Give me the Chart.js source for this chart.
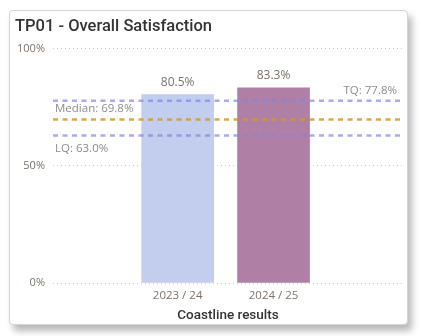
<!DOCTYPE html>
<html>
<head>
<meta charset="utf-8">
<script src="https://cdn.jsdelivr.net/npm/chart.js@4.4.7/dist/chart.umd.min.js"></script>
<style>
  html, body { margin: 0; padding: 0; background: #fff; }
  .card {
    position: absolute; left: 9px; top: 10px;
    width: 397px; height: 313px;
    border: 1px solid #d4d4d4; border-radius: 4px;
    background: #fff;
    box-shadow: 4px 6px 7px rgba(0, 0, 0, 0.28);
  }
  canvas { display: block; }
</style>
</head>
<body>
<div class="card"><canvas id="chart" width="397" height="313"></canvas></div>
<script>
// ---- Data ----
const categories = ["2023 / 24", "2024 / 25"];
const satisfaction = [80.5, 83.3];
const refNames = ["TQ", "Median", "LQ"];
const refValues = [77.8, 69.8, 63.0];
const yTicks = [0, 50, 100];

// ---- Styles ----
const BAR_COLORS = ["#c3cdee", "#b07fa5"];
const REF_COLORS = ["rgba(124, 132, 234, 0.68)", "rgba(216, 152, 32, 0.85)", "rgba(124, 132, 234, 0.68)"];
const X_MIN = -0.3, X_MAX = 3.35;
const LABEL_FONT = "'Open Sans', 'Noto Sans', sans-serif";

const refDatasets = refValues.map(function (v, i) {
  return {
    type: "line",
    label: refNames[i],
    data: [{ x: X_MIN, y: v }, { x: X_MAX, y: v }],
    borderColor: REF_COLORS[i],
    borderWidth: 2.5,
    borderDash: [5, 4.5],
    pointRadius: 0,
    order: 0
  };
});

// bar value labels + reference line captions
const labelPlugin = {
  id: "labels",
  afterDatasetsDraw: function (chart) {
    const ctx = chart.ctx;
    const y = chart.scales.y;
    const area = chart.chartArea;
    ctx.save();
    ctx.font = "12px " + LABEL_FONT;
    ctx.fillStyle = "#7d7268";
    ctx.textAlign = "center";
    ctx.textBaseline = "bottom";
    chart.getDatasetMeta(0).data.forEach(function (bar, i) {
      ctx.fillText(satisfaction[i].toFixed(1) + "%", bar.x, bar.y - 6);
    });

    ctx.fillStyle = "#8c8c8c";
    ctx.font = "11.5px " + LABEL_FONT;
    // TQ: right aligned above line
    ctx.textAlign = "right";
    ctx.textBaseline = "bottom";
    ctx.fillText(refNames[0] + ": " + refValues[0].toFixed(1) + "%", area.right - 6, y.getPixelForValue(refValues[0]) - 4);
    // Median: left aligned above line
    ctx.textAlign = "left";
    ctx.fillText(refNames[1] + ": " + refValues[1].toFixed(1) + "%", area.left + 2, y.getPixelForValue(refValues[1]) - 5);
    // LQ: left aligned below line
    ctx.textBaseline = "top";
    ctx.fillText(refNames[2] + ": " + refValues[2].toFixed(1) + "%", area.left + 2, y.getPixelForValue(refValues[2]) + 8);
    ctx.restore();
  }
};

const chart = new Chart(document.getElementById("chart"), {
  type: "bar",
  data: {
    datasets: [{
      label: "Coastline results",
      data: satisfaction.map(function (v, i) { return { x: i + 1, y: v }; }),
      backgroundColor: BAR_COLORS,
      barThickness: 72,
      order: 1
    }].concat(refDatasets)
  },
  plugins: [labelPlugin],
  options: {
    responsive: false,
    animation: false,
    layout: { padding: { left: 5, right: 4, bottom: 0, top: 0 } },
    plugins: {
      legend: { display: false },
      tooltip: { enabled: false },
      title: {
        display: true,
        text: "TP01 - Overall Satisfaction",
        align: "start",
        color: "#333333",
        font: { family: "Roboto, 'Open Sans', sans-serif", size: 16.5, weight: "500" },
        padding: { top: 6, bottom: 12 }
      }
    },
    scales: {
      x: {
        type: "linear",
        offset: false,
        min: X_MIN,
        max: X_MAX,
        afterBuildTicks: function (scale) {
          scale.ticks = categories.map(function (c, i) { return { value: i + 1 }; });
        },
        afterFit: function (scale) { scale.height = 41; },
        ticks: {
          color: "#7d7268",
          font: { family: LABEL_FONT, size: 11.5 },
          padding: 6,
          callback: function (v) { return categories[v - 1] || ""; }
        },
        grid: { display: false, drawTicks: false, offset: false },
        border: { display: false },
        title: {
          display: true,
          text: "Coastline results",
          color: "#333333",
          font: { family: "Roboto, 'Open Sans', sans-serif", size: 13.5, weight: "500" },
          padding: { top: 1, bottom: 0 }
        }
      },
      y: {
        min: 0,
        max: 100,
        afterBuildTicks: function (scale) {
          scale.ticks = yTicks.map(function (v) { return { value: v }; });
        },
        afterFit: function (scale) { scale.width = 38; },
        ticks: {
          color: "#7d7268",
          font: { family: LABEL_FONT, size: 11 },
          padding: 8,
          callback: function (v) { return v + "%"; }
        },
        grid: { color: "#c8c8c8", lineWidth: 1, drawTicks: false },
        border: { display: false, dash: [1, 3] }
      }
    }
  }
});
</script>
</body>
</html>
